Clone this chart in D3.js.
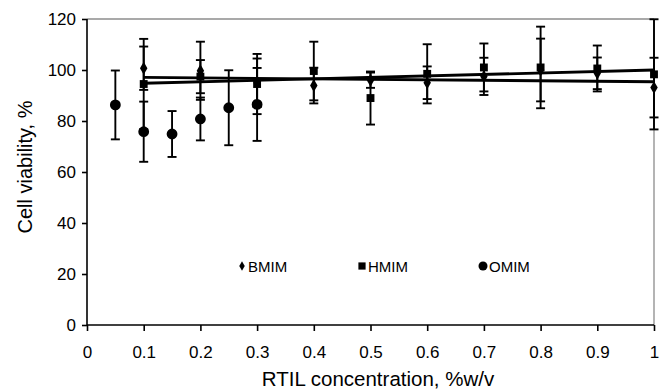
<!DOCTYPE html>
<html lang="en">
<head>
    <meta charset="UTF-8">
    <title>Cell viability</title>
    <script src="https://d3js.org/d3.v7.min.js"></script>
    <style>
        body {
            margin: 0;
            background: #fff;
        }
        text {
            font-family: "Liberation Sans", Arial, sans-serif;
            fill: #000;
        }
    </style>
</head>
<body>
    <script>
        // values
        const bmimX = [0.1, 0.2, 0.3, 0.4, 0.5, 0.6, 0.7, 0.8, 0.9, 1.0];
        const bmim = [100.7, 99.7, 95, 93.9, 96, 95, 97.5, 100, 98.7, 93.1];
        const bmimErr = [8.5, 11.4, 9.5, 7, 3, 6.4, 7.3, 12.3, 6.2, 11.7];

        const hmimX = [0.1, 0.2, 0.3, 0.4, 0.5, 0.6, 0.7, 0.8, 0.9, 1.0];
        const hmim = [94.5, 97.4, 94.5, 99.6, 89, 98.5, 101, 101, 100.6, 98.3];
        const hmimErr = [17.7, 6.5, 11.8, 11.5, 10.4, 11.6, 9.4, 16, 9, 21.6];

        const omimX = [0.05, 0.1, 0.15, 0.2, 0.25, 0.3];
        const omim = [86.3, 75.8, 74.9, 80.8, 85.2, 86.5];
        const omimErr = [13.5, 11.8, 9, 8.4, 14.7, 14.3];

        // linear trendlines (end points)
        const trendX = [0.1, 1.0];
        const bmimTrend = [97.1, 95.4];
        const hmimTrend = [94.8, 100.0];

        const xTicks = [0, 0.1, 0.2, 0.3, 0.4, 0.5, 0.6, 0.7, 0.8, 0.9, 1];
        const yTicks = [0, 20, 40, 60, 80, 100, 120];

        const width = 661, height = 391;
        const x = d3.scaleLinear().domain([0, 1]).range([87, 654]);
        const y = d3.scaleLinear().domain([0, 120]).range([325, 19]);

        const svg = d3.select("body").append("svg")
            .attr("width", width)
            .attr("height", height);

        // frame top / right (grey)
        svg.append("line")
            .attr("x1", x(0)).attr("x2", x(1))
            .attr("y1", y(120)).attr("y2", y(120))
            .attr("stroke", "#8c8c8c").attr("stroke-width", 1.3);
        svg.append("line")
            .attr("x1", x(1)).attr("x2", x(1))
            .attr("y1", y(120)).attr("y2", y(0))
            .attr("stroke", "#8c8c8c").attr("stroke-width", 1.3);

        // axes
        const xAxis = svg.append("g")
            .attr("transform", `translate(0,${y(0)})`)
            .call(d3.axisBottom(x).tickValues(xTicks).tickSize(6).tickPadding(15)
                .tickFormat(d => d === 0 || d === 1 ? String(d) : d3.format(".1f")(d)));
        const yAxis = svg.append("g")
            .attr("transform", `translate(${x(0)},0)`)
            .call(d3.axisLeft(y).tickValues(yTicks).tickSize(5).tickPadding(6));

        [xAxis, yAxis].forEach(g => {
            g.select(".domain").attr("stroke", "#000").attr("stroke-width", 1.6);
            g.selectAll(".tick line").attr("stroke", "#000").attr("stroke-width", 1.6);
            g.selectAll(".tick text")
                .attr("font-family", "Liberation Sans, Arial, sans-serif")
                .attr("font-size", 17).attr("fill", "#222");
        });
        xAxis.select(".domain").attr("d", `M${x(0)},0H${x(1)}`);
        yAxis.select(".domain").attr("d", `M0,${y(0)}V${y(120)}`);

        svg.append("text")
            .attr("x", 378).attr("y", 386)
            .attr("text-anchor", "middle")
            .attr("font-size", 20.5)
            .attr("fill", "#222")
            .text("RTIL concentration, %w/v");

        svg.append("text")
            .attr("transform", `translate(32,167) rotate(-90)`)
            .attr("text-anchor", "middle")
            .attr("font-size", 20)
            .attr("fill", "#222")
            .text("Cell viability, %");

        // trendlines
        const line = d3.line().x(d => x(d[0])).y(d => y(d[1]));
        [bmimTrend, hmimTrend].forEach(t => {
            svg.append("path")
                .attr("d", line(trendX.map((v, i) => [v, t[i]])))
                .attr("fill", "none")
                .attr("stroke", "#000")
                .attr("stroke-width", 2.8);
        });

        const series = [
            { xs: bmimX, ys: bmim, err: bmimErr, shape: d3.symbolDiamond, size: 48 },
            { xs: hmimX, ys: hmim, err: hmimErr, shape: d3.symbolSquare, size: 62 },
            { xs: omimX, ys: omim, err: omimErr, shape: d3.symbolCircle, size: 92 }
        ];

        // error bars
        series.forEach(s => {
            const g = svg.append("g");
            s.xs.forEach((xv, i) => {
                const top = Math.min(120, s.ys[i] + s.err[i]);
                const bot = s.ys[i] - s.err[i];
                const cx = x(xv);
                g.append("line")
                    .attr("x1", cx).attr("x2", cx)
                    .attr("y1", y(top)).attr("y2", y(bot))
                    .attr("stroke", "#000").attr("stroke-width", 1.9);
                [top, bot].forEach(v => {
                    g.append("line")
                        .attr("x1", cx - 4.5).attr("x2", cx + 4.5)
                        .attr("y1", y(v)).attr("y2", y(v))
                        .attr("stroke", "#000").attr("stroke-width", 1.9);
                });
            });
        });

        // markers
        series.forEach(s => {
            svg.append("g").selectAll("path")
                .data(s.xs.map((xv, i) => [xv, s.ys[i]]))
                .join("path")
                .attr("d", d3.symbol().type(s.shape).size(s.size))
                .attr("transform", d => `translate(${x(d[0])},${y(d[1])})`)
                .attr("fill", "#000");
        });

        // legend
        const legend = [
            { name: "BMIM", shape: d3.symbolDiamond, size: 26, x: 242 },
            { name: "HMIM", shape: d3.symbolSquare, size: 52, x: 362 },
            { name: "OMIM", shape: d3.symbolCircle, size: 64, x: 483 }
        ];
        legend.forEach(l => {
            svg.append("path")
                .attr("d", d3.symbol().type(l.shape).size(l.size))
                .attr("transform", `translate(${l.x},266)`)
                .attr("fill", "#000");
            svg.append("text")
                .attr("x", l.x + 6).attr("y", 271.5)
                .attr("font-size", 15)
                .attr("fill", "#1a1a1a")
                .text(l.name);
        });
    </script>
</body>
</html>
